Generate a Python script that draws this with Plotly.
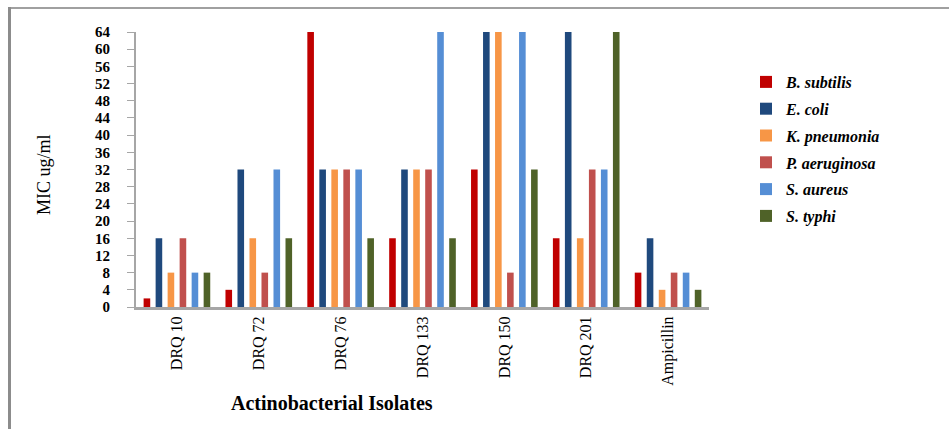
import plotly.graph_objects as go

# MIC values (ug/ml) per isolate, one list per test organism
isolates = ["DRQ 10", "DRQ 72", "DRQ 76", "DRQ 133", "DRQ 150", "DRQ 201", "Ampicillin"]
b_subtilis = [2, 4, 64, 16, 32, 16, 8]
e_coli = [16, 32, 32, 32, 64, 64, 16]
k_pneumonia = [8, 16, 32, 32, 64, 16, 4]
p_aeruginosa = [16, 8, 32, 32, 8, 32, 8]
s_aureus = [8, 32, 32, 64, 64, 32, 8]
s_typhi = [8, 16, 16, 16, 32, 64, 4]
y_ticks = list(range(0, 65, 4))

series = [
    ("B. subtilis", b_subtilis, "#C00000"),
    ("E. coli", e_coli, "#1F497D"),
    ("K. pneumonia", k_pneumonia, "#F79646"),
    ("P. aeruginosa", p_aeruginosa, "#C0504D"),
    ("S. aureus", s_aureus, "#558ED5"),
    ("S. typhi", s_typhi, "#4F6228"),
]

W, H = 949, 429
L, R, T, B = 136, 709, 32, 307  # plot area in pixels


def px_x(px):
    return (px - L) / (R - L)


def px_y(py):
    return (B - py) / (B - T)


SERIF = "Liberation Serif"

fig = go.Figure()
for name, vals, color in series:
    fig.add_trace(go.Bar(
        x=isolates, y=vals, name=name, legendgroup=name,
        marker=dict(color=color, line=dict(width=0)),
    ))

fig.update_layout(
    width=W, height=H,
    margin=dict(l=L, r=W - R, t=T, b=H - B, autoexpand=False),
    paper_bgcolor="white", plot_bgcolor="white",
    barmode="group", bargap=0.12, bargroupgap=0.45,
    showlegend=True,
    legend=dict(
        x=px_x(746), y=px_y(65), xanchor="left", yanchor="top",
        font=dict(family=SERIF, size=16, color="black", weight="bold", style="italic"),
        traceorder="grouped", tracegroupgap=3,
        bgcolor="rgba(0,0,0,0)",
    ),
    xaxis=dict(
        type="category", range=[-0.5, 6.5],
        showline=True, linecolor="#A6A6A6", linewidth=3,
        ticks="", tickangle=-90,
        tickfont=dict(family=SERIF, size=16, color="black"),
        showgrid=False, zeroline=False,
    ),
    yaxis=dict(
        range=[0, 64], tickvals=y_ticks, ticktext=[str(v) for v in y_ticks],
        showline=True, linecolor="#A6A6A6", linewidth=2,
        ticks="outside", ticklen=7, tickcolor="#A6A6A6", tickwidth=1,
        tickfont=dict(family=SERIF, size=15, color="black", weight="bold"),
        ticklabelstandoff=14,
        showgrid=False, zeroline=False,
    ),
    annotations=[
        dict(text="MIC ug/ml", x=px_x(44), y=px_y(175), xref="paper", yref="paper",
             xanchor="center", yanchor="middle",
             textangle=-90, showarrow=False,
             font=dict(family=SERIF, size=18, color="black")),
        dict(text="Actinobacterial Isolates", x=px_x(332), y=px_y(403),
             xref="paper", yref="paper", xanchor="center", yanchor="middle",
             showarrow=False,
             font=dict(family=SERIF, size=20, color="black", weight="bold")),
    ],
    shapes=[
        dict(type="line", xref="paper", yref="paper",
             x0=px_x(8), x1=px_x(W + 5), y0=px_y(8), y1=px_y(8),
             line=dict(color="#A0A0A0", width=2)),
        dict(type="line", xref="paper", yref="paper",
             x0=px_x(9.5), x1=px_x(9.5), y0=px_y(7), y1=px_y(H + 5),
             line=dict(color="#8C8C8C", width=3)),
    ],
)

fig.write_html("out.html")
